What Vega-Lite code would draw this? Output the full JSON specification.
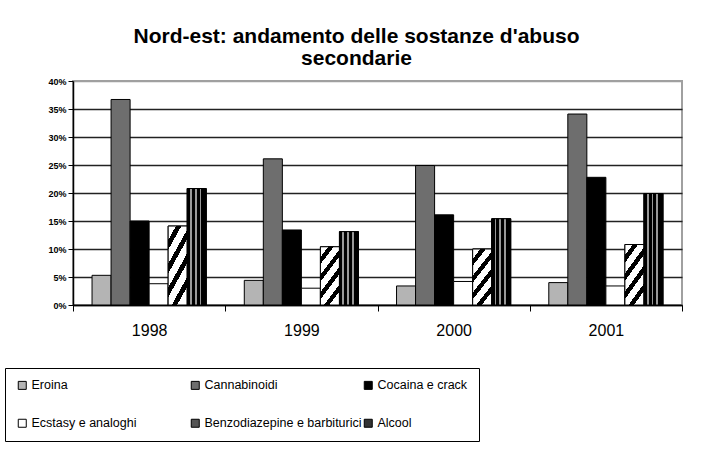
{
  "$schema": "https://vega.github.io/schema/vega-lite/v6.json",
  "width": 609,
  "height": 224,
  "autosize": "none",
  "padding": {"left": 73, "top": 81, "right": 29, "bottom": 152},
  "background": "white",
  "title": {
    "text": ["Nord-est: andamento delle sostanze d'abuso", "secondarie"],
    "font": "Liberation Sans",
    "fontSize": 21,
    "fontWeight": "bold",
    "color": "black",
    "anchor": "middle",
    "dx": -21,
    "lineHeight": 22,
    "offset": 8
  },
  "config": {
    "view": {"stroke": "#a0a0a0", "strokeWidth": 2},
    "axis": {"labelFont": "Liberation Sans", "labelColor": "black", "tickColor": "black", "domainColor": "black"}
  },
  "data": {
    "values": [
      {"year": "1998", "series": "Eroina", "value": 5.3},
      {"year": "1998", "series": "Cannabinoidi", "value": 36.7},
      {"year": "1998", "series": "Cocaina e crack", "value": 15.0},
      {"year": "1998", "series": "Ecstasy e analoghi", "value": 3.8},
      {"year": "1998", "series": "Benzodiazepine e barbiturici", "value": 14.1},
      {"year": "1998", "series": "Alcool", "value": 20.8},
      {"year": "1999", "series": "Eroina", "value": 4.4},
      {"year": "1999", "series": "Cannabinoidi", "value": 26.1},
      {"year": "1999", "series": "Cocaina e crack", "value": 13.4},
      {"year": "1999", "series": "Ecstasy e analoghi", "value": 3.0},
      {"year": "1999", "series": "Benzodiazepine e barbiturici", "value": 10.4},
      {"year": "1999", "series": "Alcool", "value": 13.1},
      {"year": "2000", "series": "Eroina", "value": 3.4},
      {"year": "2000", "series": "Cannabinoidi", "value": 24.9},
      {"year": "2000", "series": "Cocaina e crack", "value": 16.1},
      {"year": "2000", "series": "Ecstasy e analoghi", "value": 4.2},
      {"year": "2000", "series": "Benzodiazepine e barbiturici", "value": 10.0},
      {"year": "2000", "series": "Alcool", "value": 15.4},
      {"year": "2001", "series": "Eroina", "value": 4.0},
      {"year": "2001", "series": "Cannabinoidi", "value": 34.1},
      {"year": "2001", "series": "Cocaina e crack", "value": 22.8},
      {"year": "2001", "series": "Ecstasy e analoghi", "value": 3.4},
      {"year": "2001", "series": "Benzodiazepine e barbiturici", "value": 10.8},
      {"year": "2001", "series": "Alcool", "value": 19.9}
    ]
  },
  "encoding": {
    "x": {
      "field": "year",
      "type": "nominal",
      "scale": {"paddingInner": 0, "paddingOuter": 0},
      "axis": {
        "title": null,
        "labelAngle": 0,
        "labelFontSize": 16,
        "tickBand": "extent",
        "tickSize": 6,
        "labelPadding": 11,
        "domainWidth": 1.5,
        "grid": false
      }
    },
    "xOffset": {
      "field": "series",
      "type": "nominal",
      "scale": {
        "domain": ["Eroina", "Cannabinoidi", "Cocaina e crack", "Ecstasy e analoghi", "Benzodiazepine e barbiturici", "Alcool"],
        "paddingInner": 0,
        "paddingOuter": 1.19
      }
    },
    "y": {
      "field": "value",
      "type": "quantitative",
      "scale": {"domain": [0, 40], "nice": false},
      "axis": {
        "title": null,
        "values": [0, 5, 10, 15, 20, 25, 30, 35, 40],
        "labelExpr": "datum.value + '%'",
        "labelFontSize": 9,
        "labelFontWeight": "bold",
        "labelPadding": 2,
        "tickSize": 5,
        "domainWidth": 1.5,
        "grid": true,
        "gridWidth": 1.3,
        "gridColor": {"condition": {"test": "datum.value === 40", "value": "#a0a0a0"}, "value": "#222222"}
      }
    }
  },
  "layer": [
    {
      "mark": {"type": "bar", "stroke": "black", "strokeWidth": 1},
      "encoding": {
        "fill": {
          "field": "series",
          "type": "nominal",
          "scale": {
            "domain": ["Eroina", "Cannabinoidi", "Cocaina e crack", "Ecstasy e analoghi", "Benzodiazepine e barbiturici", "Alcool"],
            "range": ["#b4b4b4", "#6e6e6e", "#000000", "#ffffff", "#555555", "#333333"]
          },
          "legend": {
            "title": null,
            "orient": "none",
            "legendX": -68,
            "legendY": 287,
            "direction": "horizontal",
            "columns": 3,
            "gridAlign": "all",
            "symbolType": "square",
            "symbolSize": 64,
            "symbolStrokeColor": "black",
            "symbolStrokeWidth": 1,
            "labelFont": "Liberation Sans",
            "labelFontSize": 12.5,
            "labelColor": "black",
            "labelOffset": 3,
            "labelLimit": 400,
            "rowPadding": 25,
            "columnPadding": 0,
            "padding": 11,
            "strokeColor": "black",
            "fillColor": "white"
          }
        }
      }
    },
    {
      "transform": [{"filter": "datum.series === 'Benzodiazepine e barbiturici'"}],
      "mark": {
        "type": "bar",
        "stroke": "black",
        "strokeWidth": 1,
        "fill": {
          "gradient": "linear",
          "x1": 0, "y1": 0, "x2": 0.5, "y2": 1.15,
          "stops": [
            {"offset": 0, "color": "white"},
            {"offset": 0.13, "color": "white"},
            {"offset": 0.13, "color": "black"},
            {"offset": 0.22, "color": "black"},
            {"offset": 0.22, "color": "white"},
            {"offset": 0.35, "color": "white"},
            {"offset": 0.35, "color": "black"},
            {"offset": 0.44, "color": "black"},
            {"offset": 0.44, "color": "white"},
            {"offset": 0.57, "color": "white"},
            {"offset": 0.57, "color": "black"},
            {"offset": 0.66, "color": "black"},
            {"offset": 0.66, "color": "white"},
            {"offset": 0.79, "color": "white"},
            {"offset": 0.79, "color": "black"},
            {"offset": 0.88, "color": "black"},
            {"offset": 0.88, "color": "white"},
            {"offset": 1, "color": "white"}
          ]
        }
      }
    },
    {
      "transform": [{"filter": "datum.series === 'Alcool'"}],
      "mark": {
        "type": "bar",
        "stroke": "black",
        "strokeWidth": 1,
        "fill": {
          "gradient": "linear",
          "x1": 0, "y1": 0, "x2": 1, "y2": 0,
          "stops": [
            {"offset": 0, "color": "black"},
            {"offset": 0.15, "color": "black"},
            {"offset": 0.15, "color": "#999999"},
            {"offset": 0.24, "color": "#999999"},
            {"offset": 0.24, "color": "black"},
            {"offset": 0.4, "color": "black"},
            {"offset": 0.4, "color": "#999999"},
            {"offset": 0.49, "color": "#999999"},
            {"offset": 0.49, "color": "black"},
            {"offset": 0.65, "color": "black"},
            {"offset": 0.65, "color": "#999999"},
            {"offset": 0.74, "color": "#999999"},
            {"offset": 0.74, "color": "black"},
            {"offset": 1, "color": "black"}
          ]
        }
      }
    }
  ]
}
